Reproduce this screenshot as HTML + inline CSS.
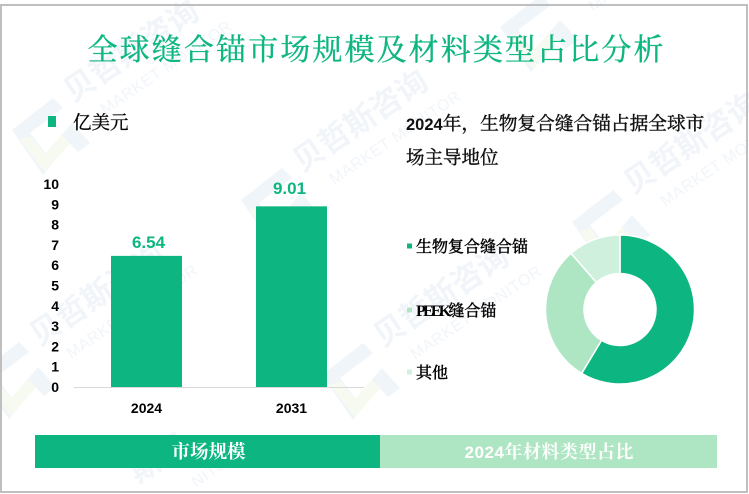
<!DOCTYPE html>
<html lang="zh">
<head>
<meta charset="utf-8">
<title>全球缝合锚市场规模及材料类型占比分析</title>
<style>
html,body{margin:0;padding:0;background:#fff;width:749px;height:494px;overflow:hidden}
svg{display:block}
.serif{font-family:"Liberation Serif","Noto Serif CJK SC",serif}
.sans{font-family:"Liberation Sans","Noto Sans CJK SC",sans-serif}
.wm-text{font-family:"Liberation Sans","Noto Sans CJK SC",sans-serif;font-weight:700;font-size:31px;fill:#f1f5fa}
.wm-en{font-family:"Liberation Sans",sans-serif;font-size:16px;fill:#f1f5fa;letter-spacing:.6px}
</style>
</head>
<body>
<svg id="chart" xmlns="http://www.w3.org/2000/svg" width="749" height="494" viewBox="0 0 749 494">
  <rect x="0" y="0" width="749" height="494" fill="#ffffff"/>
  <defs>
    <g id="wm">
      <polygon points="0,32 41,0 51,10 18,35 41,65 31,77" fill="#f0f5fa"/>
      <polygon points="8,42 18,38 33,56 60,25 68,34 33,74" fill="#f7faf0"/>
      <polygon points="60,25 78,45 66,54 50,37" fill="#f0f5fa"/>
      <text class="wm-text" transform="translate(61,5) rotate(-34)">贝哲斯咨询</text>
      <text class="wm-en" transform="translate(93,17) rotate(-34)">MARKET MONITOR</text>
    </g>
  </defs>
  <g>
    <use href="#wm" x="12" y="98"/>
    <use href="#wm" x="241" y="168"/>
    <use href="#wm" x="572" y="190"/>
    <use href="#wm" x="500" y="-5"/>
    <use href="#wm" x="-22" y="342"/>
    <use href="#wm" x="322" y="343"/>
    <text class="wm-text" transform="translate(138,484) rotate(-34)">斯咨</text>
    <text class="wm-en" transform="translate(196,488) rotate(-34)">NITOR</text>
  </g>
  <rect x="1" y="5" width="746" height="487" fill="none" stroke="#bfbfbf" stroke-width="2"/>
  <text class="serif" x="375.5" y="60" text-anchor="middle" font-size="30" fill="#0db680" stroke="#0db680" stroke-width=".35" textLength="576" lengthAdjust="spacing">全球缝合锚市场规模及材料类型占比分析</text>

  <rect x="48" y="116" width="8" height="11" fill="#0db680"/>
  <text class="serif" x="73" y="129" font-size="18.5" fill="#000" stroke="#000" stroke-width=".3">亿美元</text>

  <text x="406" y="130" font-size="18.7" fill="#111"><tspan class="sans" font-size="16.5" font-weight="700">2024</tspan><tspan class="serif" stroke="#111" stroke-width=".4">年，生物复合缝合锚占据全球市</tspan></text>
  <text class="serif" x="406" y="164" font-size="18.5" fill="#111" stroke="#111" stroke-width=".4">场主导地位</text>

  <g id="bars"></g>
  <g id="donut"></g>
  <g id="legend"></g>

  <rect x="35" y="435" width="345" height="33" fill="#0db680"/>
  <text class="serif" x="208.5" y="458" text-anchor="middle" font-size="18.5" font-weight="700" fill="#fff">市场规模</text>
  <rect x="380" y="435" width="337" height="33" fill="#aee6c3"/>
  <text class="serif" x="549" y="458" text-anchor="middle" font-size="18" font-weight="700" fill="#fff" textLength="169"><tspan class="sans" font-size="17">2024</tspan>年材料类型占比</text>
</svg>
<script>
var categories = ['2024', '2031'];
var barValues = [6.54, 9.01];
var barLabels = ['6.54', '9.01'];
var yTicks = [0, 1, 2, 3, 4, 5, 6, 7, 8, 9, 10];
var materialNames = ['生物复合缝合锚', 'PEEK缝合锚', '其他'];
var materialShares = [58.6, 30, 11.4];
var materialColors = ['#0db680', '#aee6c3', '#cff0dd'];

var NS = 'http://www.w3.org/2000/svg';
function make(tag, parent, attrs, txt) {
  var n = document.createElementNS(NS, tag);
  for (var k in attrs) n.setAttribute(k, attrs[k]);
  if (txt !== undefined) n.textContent = txt;
  parent.appendChild(n);
  return n;
}

/* bar chart */
var plotLeft = 74, plotRight = 364, plotBase = 387, unit = 20.05, tickUnit = 20.3;
var barWidth = 71;
function yScale(v) { return plotBase - v * unit; }
function tickY(v) { return plotBase - v * tickUnit; }
function labelY(v) { return 391 - v * 21.86; }
function xCenter(i) { return plotLeft + (plotRight - plotLeft) * (i + 0.5) / categories.length; }
function labelX(i) { return 219 + (i - 0.5) * 141; }

var barsG = document.getElementById('bars');
yTicks.forEach(function (t) {
  var el = make('text', barsG, {x: 59, y: tickY(t) + 5, 'text-anchor': 'end', 'font-size': 14, 'font-weight': 700, fill: '#000', 'class': 'sans'}, String(t));
  
  
});
categories.forEach(function (c, i) {
  var top = yScale(barValues[i]);
  var bar = make('rect', barsG, {x: xCenter(i) - barWidth / 2, y: top, width: barWidth, height: plotBase - top, fill: '#0db680'});
  
  
  var val = make('text', barsG, {x: labelX(i), y: labelY(barValues[i]), 'text-anchor': 'middle', 'font-size': 17, 'font-weight': 700, fill: '#0db680', 'class': 'sans'}, barLabels[i]);
  
  
  var cat = make('text', barsG, {x: xCenter(i), y: 413, 'text-anchor': 'middle', 'font-size': 14, 'font-weight': 700, fill: '#000', 'class': 'sans'}, c);
  
  
});
var axis = make('line', barsG, {x1: plotLeft, x2: plotRight, y1: plotBase + 0.5, y2: plotBase + 0.5, stroke: '#d9d9d9', 'stroke-width': 1});



/* donut chart */
var cx = 620, cy = 309.5, rOuter = 74.5, rInner = 36;
var donutG = document.getElementById('donut');
var total = materialShares.reduce(function (a, b) { return a + b; }, 0);
function polar(r, a) { return [cx + r * Math.sin(a), cy - r * Math.cos(a)]; }
var angle = 0;
materialShares.forEach(function (v, i) {
  var next = angle + v / total * Math.PI * 2;
  var large = next - angle > Math.PI ? 1 : 0;
  var p1 = polar(rOuter, angle), p2 = polar(rOuter, next), p3 = polar(rInner, next), p4 = polar(rInner, angle);
  var d = 'M' + p1[0] + ' ' + p1[1] + 'A' + rOuter + ' ' + rOuter + ' 0 ' + large + ' 1 ' + p2[0] + ' ' + p2[1] +
          'L' + p3[0] + ' ' + p3[1] + 'A' + rInner + ' ' + rInner + ' 0 ' + large + ' 0 ' + p4[0] + ' ' + p4[1] + 'Z';
  var slice = make('path', donutG, {d: d, fill: materialColors[i], stroke: '#fff', 'stroke-width': 1.5});
  
  
  angle = next;
});

/* donut legend */
var legendG = document.getElementById('legend');
var legendRowY = [246, 310, 372];
materialNames.forEach(function (n, i) {
  var sw = make('rect', legendG, {x: 407, y: legendRowY[i] - 2.5, width: 5, height: 5, fill: materialColors[i]});
  
  
  var t = make('text', legendG, {x: 416, y: legendRowY[i] + 6, 'font-size': 16, fill: '#000', stroke: '#000', 'stroke-width': 0.45, 'class': 'serif'});
  
  
  var latin = (n.match(/^[A-Za-z]+/) || [''])[0];
  if (latin) {
    make('tspan', t, {'letter-spacing': -2.8, 'font-weight': 700, 'stroke-width': 0}, latin);
  }
  make('tspan', t, {}, n.slice(latin.length));
});
</script>
</body>
</html>
